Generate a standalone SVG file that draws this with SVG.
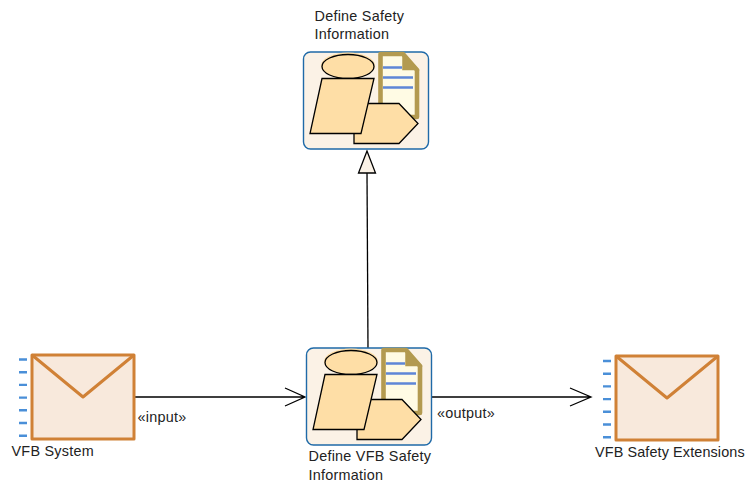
<svg xmlns="http://www.w3.org/2000/svg" width="746" height="486" viewBox="0 0 746 486">
<style>
text{font-family:"Liberation Sans",Arial,sans-serif;font-size:14.400px;letter-spacing:.25px;fill:#222}
.tight{letter-spacing:.12px}
.box{fill:#fbf2e6;stroke:#1f6aa8;stroke-width:1.4}
.halo{fill:#fedea6}
.sh{fill:#fedea6;stroke:#000;stroke-width:1.3;stroke-linejoin:miter}
.doc{fill:#fffbe4;stroke:#b39a50;stroke-width:4.6;stroke-linejoin:round}
.fold{fill:#b39a50;stroke:#b39a50;stroke-width:1.5}
.ln{stroke:#5f87d6;stroke-width:2.6;fill:none}
.env{fill:#f8e9dc;stroke:#d08136;stroke-width:3;stroke-linejoin:round}
.fl{fill:none;stroke:#d08136;stroke-width:3;stroke-linejoin:round}
.tick{stroke:#4a8fd8;stroke-width:2.4}
.c{fill:none;stroke:#000;stroke-width:1.3}
</style>
<defs>
<g id="proc">
<rect class="box" x="0.500" y="0.500" width="125" height="97" rx="7"/>
<ellipse class="halo" cx="45" cy="14" rx="27" ry="13"/>
<ellipse class="sh" cx="45" cy="15" rx="26" ry="12"/>
<path class="doc" d="M77.500 2.500H100L114 18.500V65.500H77.500Z"/>
<path class="fold" d="M100 3L115 18H100Z"/>
<path class="ln" d="M80 16H99M80 26H110M80 36H110"/>
<path class="sh" d="M51 52H96L115 72L96 92H51Z"/>
<path class="sh" d="M19 27H71L58 82H7Z"/>
</g>
<g id="ticks">
<path class="tick" d="M0 0h8M0 12.700h8M0 25.400h8M0 38.100h8M0 50.800h8M0 63.500h8M0 76.200h8"/>
</g>
</defs>
<g id="connectors">
<path class="c" d="M367 173L368 349"/>
<path d="M367 151L358.500 173H375.500Z" fill="#fbf2e6" stroke="#000" stroke-width="1.300"/>
<path class="c" d="M134 397H305M285 388L305 397L285 406"/>
<path class="c" d="M432 397H591M570 388L591 397L570 406"/>
</g>
<g id="n1"><use href="#proc" x="303" y="51.500"/>
<text x="314.500" y="21">Define Safety</text><text x="314.500" y="39">Information</text></g>
<g id="n2"><use href="#proc" x="306" y="347.500"/>
<text x="308.500" y="461">Define VFB Safety</text><text x="308.500" y="480">Information</text></g>
<g id="n3"><use href="#ticks" x="19" y="359.500"/>
<rect class="env" x="32" y="355" width="102" height="84"/><path class="fl" d="M32 355L83 397L134 355"/>
<text x="11.500" y="456">VFB System</text></g>
<g id="n4"><use href="#ticks" x="603" y="361"/>
<rect class="env" x="616" y="356" width="102" height="84"/><path class="fl" d="M616 356L667 398L718 356"/>
<text class="tight" x="595" y="457">VFB Safety Extensions</text></g>
<text x="137.500" y="422">«input»</text>
<text x="437" y="418">«output»</text>
</svg>
